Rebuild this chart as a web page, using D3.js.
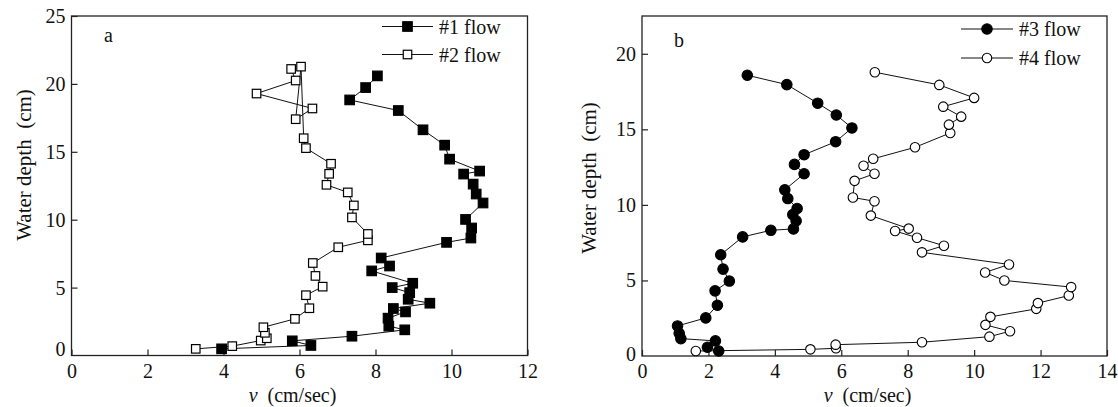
<!DOCTYPE html>
<html>
<head>
<meta charset="utf-8">
<script src="https://cdn.jsdelivr.net/npm/d3@7"></script>
<style>
  html, body { margin: 0; padding: 0; background: #fff; }
  svg { display: block; font-family: "Liberation Serif", "Times New Roman", serif; }
</style>
</head>
<body>
<svg id="chart" width="1118" height="407"></svg>
<script>
// Velocity profiles: [v (cm/sec), water depth (cm)], in plotting order.
const flow1 = [
  [3.95, 0.49], [6.30, 0.74], [5.81, 1.08], [7.38, 1.42], [8.77, 1.89], [8.35, 2.16],
  [8.33, 2.75], [8.79, 3.21], [8.47, 3.46], [9.43, 3.85], [8.86, 4.14], [8.90, 4.63],
  [8.44, 5.00], [8.98, 5.32], [7.90, 6.23], [8.37, 6.59], [8.15, 7.18], [9.87, 8.33],
  [10.51, 8.65], [10.53, 9.39], [10.37, 10.02], [10.83, 11.23], [10.65, 11.89],
  [10.57, 12.62], [10.32, 13.36], [10.74, 13.58], [9.95, 14.46], [9.82, 15.49],
  [9.25, 16.62], [8.60, 18.04], [7.32, 18.82], [7.74, 19.73], [8.05, 20.59]
];
const flow2 = [
  [3.27, 0.49], [4.23, 0.69], [4.98, 1.10], [5.14, 1.27], [5.09, 1.67], [5.05, 2.08],
  [5.88, 2.70], [6.26, 3.48], [6.17, 4.44], [6.61, 5.07], [6.42, 5.86], [6.35, 6.81],
  [7.02, 7.97], [7.80, 8.48], [7.80, 8.95], [7.38, 10.17], [7.43, 11.05], [7.27, 12.01],
  [6.71, 12.57], [6.78, 13.38], [6.83, 14.12], [6.17, 15.27], [6.11, 16.00],
  [6.04, 21.27], [5.90, 17.40], [6.34, 18.19], [4.87, 19.29], [5.90, 20.25], [5.78, 21.10]
];
const flow3 = [
  [2.31, 0.33], [1.97, 0.58], [2.21, 1.00], [1.17, 1.15], [1.12, 1.50], [1.07, 1.99],
  [1.92, 2.52], [2.27, 3.36], [2.20, 4.31], [2.63, 4.96], [2.44, 5.75], [2.37, 6.70],
  [3.03, 7.88], [3.88, 8.32], [4.56, 8.41], [4.64, 8.94], [4.54, 9.36], [4.67, 9.76],
  [4.39, 10.42], [4.30, 11.00], [4.88, 12.06], [4.59, 12.68], [4.88, 13.32],
  [5.83, 14.18], [6.32, 15.09], [5.85, 15.95], [5.29, 16.73], [4.36, 17.96], [3.17, 18.58]
];
const flow4 = [
  [1.62, 0.33], [5.07, 0.44], [5.84, 0.51], [5.83, 0.75], [8.43, 0.91], [10.46, 1.28],
  [11.08, 1.64], [10.34, 2.06], [10.49, 2.59], [11.87, 3.12], [11.92, 3.50], [12.85, 4.00],
  [12.92, 4.56], [10.91, 5.00], [10.33, 5.53], [11.05, 6.06], [8.43, 6.86], [9.09, 7.30],
  [8.28, 7.83], [7.62, 8.27], [8.03, 8.43], [6.89, 9.29], [7.00, 10.24], [6.35, 10.49],
  [6.40, 11.59], [7.00, 12.06], [6.67, 12.59], [6.96, 13.05], [8.22, 13.81], [9.28, 14.76],
  [9.24, 15.31], [9.61, 15.84], [9.07, 16.50], [10.00, 17.08], [8.95, 17.94], [7.01, 18.78]
];

const xTicksA = [0, 2, 4, 6, 8, 10, 12];
const yTicksA = [0, 5, 10, 15, 20, 25];
const xTicksB = [0, 2, 4, 6, 8, 10, 12, 14];
const yTicksB = [0, 5, 10, 15, 20];
const legendA = ["#1 flow", "#2 flow"];
const legendB = ["#3 flow", "#4 flow"];
const xTitle = "(cm/sec)";
const yTitle = "Water depth  (cm)";

const svg = d3.select("#chart");
svg.append("rect").attr("width", 1118).attr("height", 407).attr("fill", "#fff");

function drawPanel(opt) {
  const g = svg.append("g");
  const x = d3.scaleLinear().domain(opt.xDomain).range([opt.left, opt.right]);
  const y = d3.scaleLinear().domain(opt.yDomain).range([opt.bottom, opt.top]);
  const tick = 6;

  // frame
  g.append("rect")
    .attr("x", opt.left).attr("y", opt.top)
    .attr("width", opt.right - opt.left).attr("height", opt.bottom - opt.top)
    .attr("fill", "none").attr("stroke", "#222").attr("stroke-width", 1.3);

  // bottom axis, ticks pointing inward
  const xAxis = d3.axisBottom(x).tickValues(opt.xTicks).tickSizeInner(-tick).tickSizeOuter(0)
    .tickFormat(d3.format("d")).tickPadding(8);
  const gx = g.append("g").attr("transform", `translate(0,${opt.bottom})`).call(xAxis);
  gx.select(".domain").remove();
  gx.selectAll("line").attr("stroke", "#222").attr("stroke-width", 1.2);
  gx.selectAll("text").attr("font-size", 20).attr("fill", "#111")
    .attr("font-family", "Liberation Serif").attr("dy", "0.71em");

  // left axis, ticks pointing inward
  const yAxis = d3.axisLeft(y).tickValues(opt.yTicks).tickSizeInner(-tick).tickSizeOuter(0)
    .tickFormat(d3.format("d")).tickPadding(6);
  const gy = g.append("g").attr("transform", `translate(${opt.left},0)`).call(yAxis);
  gy.select(".domain").remove();
  gy.selectAll("line").attr("stroke", "#222").attr("stroke-width", 1.2);
  gy.selectAll("text").attr("font-size", 20).attr("fill", "#111")
    .attr("font-family", "Liberation Serif")
    .attr("transform", d => d === 0 ? `translate(0,${-opt.zeroLift})` : null);
  gy.selectAll(".tick line").filter(d => d === 0).remove();

  // panel letter
  g.append("text").attr("x", opt.letterX).attr("y", opt.letterY)
    .attr("font-size", 20).attr("fill", "#111").text(opt.letter);

  // axis titles
  const xt = g.append("text")
    .attr("x", (opt.left + opt.right) / 2 - 7).attr("y", 402)
    .attr("text-anchor", "middle").attr("font-size", 20).attr("fill", "#111");
  xt.append("tspan").attr("font-style", "italic").text("v");
  xt.append("tspan").text("\u00a0\u00a0" + xTitle);

  g.append("text")
    .attr("transform", `translate(${opt.yTitleX},${opt.yTitleY}) rotate(-90)`)
    .attr("text-anchor", "middle").attr("font-size", 21).attr("fill", "#111")
    .attr("xml:space", "preserve")
    .text(yTitle);

  const line = d3.line().x(d => x(d[0])).y(d => y(d[1]));

  opt.series.forEach(s => {
    g.append("path").datum(s.data).attr("d", line)
      .attr("fill", "none").attr("stroke", "#111").attr("stroke-width", 1);
  });

  function marker(sel, s) {
    if (s.shape === "square") {
      sel.append("rect")
        .attr("x", -s.size / 2).attr("y", -s.size / 2)
        .attr("width", s.size).attr("height", s.size)
        .attr("fill", s.filled ? "#000" : "#fff").attr("stroke", "#000").attr("stroke-width", 1.2);
    } else {
      sel.append("circle").attr("r", s.size / 2)
        .attr("fill", s.filled ? "#000" : "#fff").attr("stroke", "#000").attr("stroke-width", 1.1);
    }
  }

  opt.series.forEach(s => {
    g.append("g").selectAll("g").data(s.data).join("g")
      .attr("transform", d => `translate(${x(d[0])},${y(d[1])})`)
      .each(function () { marker(d3.select(this), s); });
  });

  // legend
  opt.series.forEach((s, i) => {
    const ly = opt.legendY[i];
    g.append("line").attr("x1", opt.legendX0).attr("x2", opt.legendX1)
      .attr("y1", ly).attr("y2", ly).attr("stroke", "#111").attr("stroke-width", 1);
    const m = g.append("g").attr("transform", `translate(${(opt.legendX0 + opt.legendX1) / 2},${ly})`);
    marker(m, s);
    g.append("text").attr("x", opt.legendTextX).attr("y", ly + 7)
      .attr("font-size", 20).attr("fill", "#111").text(opt.legend[i]);
  });
}

drawPanel({
  left: 71.5, right: 527.5, top: 16, bottom: 355.5,
  xDomain: [0, 12], yDomain: [0, 25],
  xTicks: xTicksA, yTicks: yTicksA, zeroLift: 6,
  letter: "a", letterX: 104, letterY: 42,
  yTitleX: 31, yTitleY: 165,
  legend: legendA, legendX0: 382, legendX1: 433, legendTextX: 439, legendY: [26.5, 54.5],
  series: [
    { data: flow1, shape: "square", filled: true, size: 9.5 },
    { data: flow2, shape: "square", filled: false, size: 8.5 }
  ]
});

drawPanel({
  left: 642, right: 1107, top: 16, bottom: 356,
  xDomain: [0, 14], yDomain: [0, 22.5],
  xTicks: xTicksB, yTicks: yTicksB, zeroLift: 2,
  letter: "b", letterX: 674, letterY: 47,
  yTitleX: 596, yTitleY: 178,
  legend: legendB, legendX0: 961, legendX1: 1013, legendTextX: 1019, legendY: [29, 58],
  series: [
    { data: flow3, shape: "circle", filled: true, size: 10.5 },
    { data: flow4, shape: "circle", filled: false, size: 9.5 }
  ]
});
</script>
</body>
</html>
